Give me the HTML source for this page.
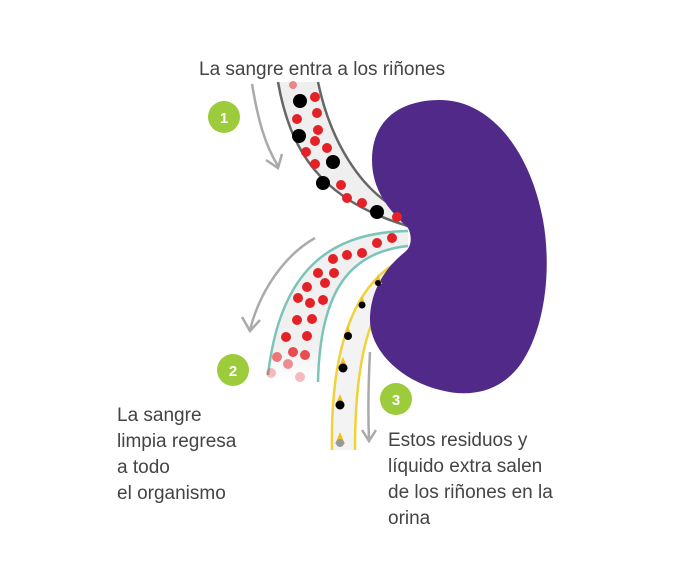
<!DOCTYPE html>
<html><head><meta charset="utf-8"><style>
html,body{margin:0;padding:0;background:#fff;}
svg{display:block}
text{font-family:"Liberation Sans",sans-serif;fill:#444;font-size:19px}
</style></head><body>
<svg width="695" height="578" viewBox="0 0 695 578" xmlns="http://www.w3.org/2000/svg">
<defs>
<linearGradient id="fade2" x1="0" y1="0" x2="0" y2="1"><stop offset="0.75" stop-color="#f0f0f0"/><stop offset="1" stop-color="#fff"/></linearGradient>
</defs>
<!-- tube 1 -->
<path d="M278,82 C290,150 320,200 408,226 L400,210 C360,190 330,140 318,82 Z" fill="#efefef"/>
<path d="M278,82 C290,150 320,200 408,226" fill="none" stroke="#666" stroke-width="2.5"/>
<path d="M318,82 C330,140 360,190 400,210" fill="none" stroke="#666" stroke-width="2.5"/>
<!-- tube 2 -->
<path d="M408,231 C330,232 280,270 268,375 L318,382 C320,290 350,252 408,246 Z" fill="url(#fade2)"/>
<path d="M408,231 C330,232 280,270 268,375" fill="none" stroke="#7cc4b8" stroke-width="2.5"/>
<path d="M408,246 C350,252 320,290 318,382" fill="none" stroke="#7cc4b8" stroke-width="2.5"/>
<!-- tube 3 -->
<path d="M405,258 C358,280 330,340 332,450 L355,450 C355,350 372,300 410,268 Z" fill="#f3f3f3"/>
<path d="M405,258 C358,280 330,340 332,450" fill="none" stroke="#f0d23a" stroke-width="2.5"/>
<path d="M410,268 C372,300 355,350 355,450" fill="none" stroke="#f0d23a" stroke-width="2.5"/>
<!-- kidney -->
<path d="M408,228 C395,215 372,195 372,160 C372,120 400,100 440,100 C490,100 530,150 543,220 C552,270 545,330 520,365 C500,392 470,398 440,390 C400,380 370,350 370,320 C370,285 392,262 405,252 C412,246 412,236 408,228 Z" fill="#512a89"/>
<!-- dots tube1 -->
<g fill="#e32227">
<circle cx="315" cy="97" r="5"/><circle cx="297" cy="119" r="5"/><circle cx="317" cy="113" r="5"/><circle cx="318" cy="130" r="5"/><circle cx="315" cy="141" r="5"/><circle cx="327" cy="148" r="5"/><circle cx="306" cy="152" r="5"/><circle cx="315" cy="164" r="5"/><circle cx="341" cy="185" r="5"/><circle cx="347" cy="198" r="5"/><circle cx="362" cy="203" r="5"/><circle cx="397" cy="217" r="5"/><circle cx="293" cy="85" r="4" opacity="0.5"/>
</g>
<g fill="#000">
<circle cx="300" cy="101" r="7"/><circle cx="299" cy="136" r="7"/><circle cx="333" cy="162" r="7"/><circle cx="323" cy="183" r="7"/><circle cx="377" cy="212" r="7"/>
</g>
<!-- dots tube2 -->
<g fill="#e32227">
<circle cx="392" cy="238" r="5"/><circle cx="377" cy="243" r="5"/><circle cx="362" cy="253" r="5"/><circle cx="347" cy="255" r="5"/><circle cx="333" cy="259" r="5"/><circle cx="318" cy="273" r="5"/><circle cx="334" cy="273" r="5"/><circle cx="325" cy="283" r="5"/><circle cx="307" cy="287" r="5"/><circle cx="298" cy="298" r="5"/><circle cx="310" cy="303" r="5"/><circle cx="323" cy="300" r="5"/><circle cx="297" cy="320" r="5"/><circle cx="312" cy="319" r="5"/><circle cx="286" cy="337" r="5"/><circle cx="307" cy="336" r="5"/>
<circle cx="293" cy="352" r="5" opacity="0.8"/><circle cx="277" cy="357" r="5" opacity="0.6"/><circle cx="305" cy="355" r="5" opacity="0.8"/><circle cx="288" cy="364" r="5" opacity="0.5"/><circle cx="271" cy="373" r="5" opacity="0.3"/><circle cx="300" cy="377" r="5" opacity="0.3"/>
</g>
<!-- tube3 particles -->
<g fill="#f0c020">
<path d="M378,274 l-4,10 h8 Z"/><path d="M362,296 l-4,10 h8 Z"/><path d="M348,326 l-4,11 h8 Z"/><path d="M343,357 l-5,12 h10 Z"/><path d="M340,394 l-5,12 h10 Z"/><path d="M340,432 l-5,12 h10 Z"/>
</g>
<g fill="#000">
<circle cx="378" cy="283" r="3"/><circle cx="362" cy="305" r="3.5"/><circle cx="348" cy="336" r="4"/><circle cx="343" cy="368" r="4.5"/><circle cx="340" cy="405" r="4.5"/><circle cx="340" cy="443" r="4" fill="#999"/>
</g>
<!-- arrows -->
<g fill="none" stroke="#aaa" stroke-width="2.5">
<path d="M252,84 C258,120 265,145 278,166"/><path d="M266,160 L278,168 L282,154"/>
<path d="M315,238 C285,255 260,290 250,330"/><path d="M242,317 L250,331 L260,320"/>
<path d="M370,352 C368,390 368,415 369,440"/><path d="M362,430 L369,441 L376,430"/>
</g>
<!-- numbers -->
<g fill="#9ccb3b"><circle cx="224" cy="117" r="16"/><circle cx="233" cy="370" r="16"/><circle cx="396" cy="399" r="16"/></g>
<text x="224" y="123" text-anchor="middle" style="fill:#fff;font-weight:bold;font-size:15px">1</text>
<text x="233" y="376" text-anchor="middle" style="fill:#fff;font-weight:bold;font-size:15px">2</text>
<text x="396" y="405" text-anchor="middle" style="fill:#fff;font-weight:bold;font-size:15px">3</text>
<text x="199" y="75">La sangre entra a los riñones</text>
<text x="117" y="421">La sangre</text>
<text x="117" y="447">limpia regresa</text>
<text x="117" y="473">a todo</text>
<text x="117" y="499">el organismo</text>
<text x="388" y="446">Estos residuos y</text>
<text x="388" y="472">líquido extra salen</text>
<text x="388" y="498">de los riñones en la</text>
<text x="388" y="524">orina</text>
</svg>
</body></html>
